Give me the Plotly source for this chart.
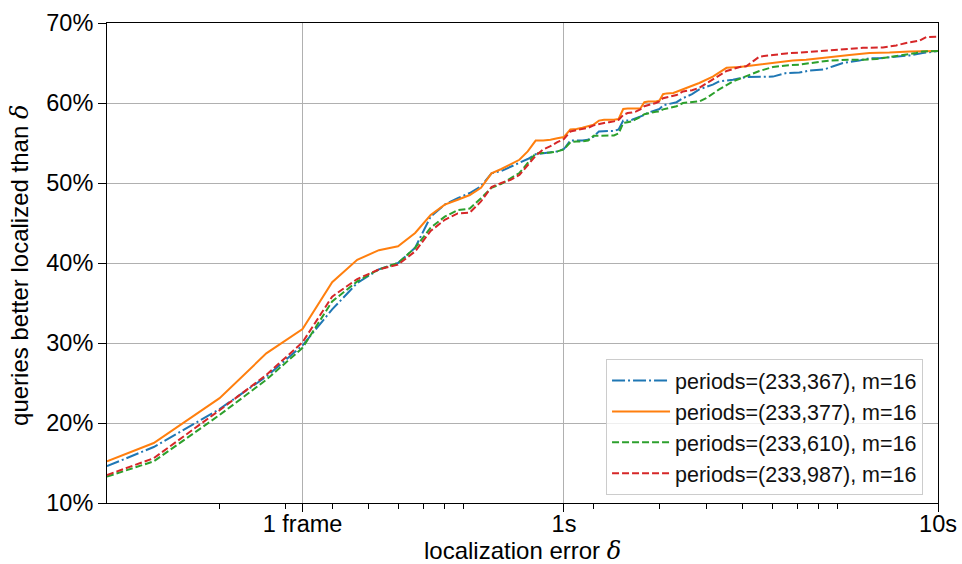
import plotly.graph_objects as go

# ---- data (x in seconds, y in % of queries) ----
x_367 = [0.06, 0.08, 0.12, 0.16, 0.20, 0.24, 0.28, 0.32, 0.36, 0.40, 0.44, 0.48, 0.52, 0.56,
         0.60, 0.64, 0.68, 0.72, 0.76, 0.80, 0.84, 0.88, 0.92, 0.96, 1.00, 1.04, 1.08, 1.12,
         1.16, 1.20, 1.24, 1.28, 1.32, 1.36, 1.40, 1.44, 1.48, 1.52, 1.56, 1.60, 1.64, 1.68,
         1.72, 1.76, 1.80, 1.84, 1.92, 2.00, 2.08, 2.20, 2.30, 2.50, 2.60, 2.83, 3.07, 3.33,
         3.62, 3.93, 4.26, 4.53, 4.97, 5.25, 5.57, 6.16, 6.56, 6.97, 7.60, 8.40, 9.10, 10.0]
y_367 = [14.6, 17.0, 21.75, 25.8, 29.7, 34.2, 37.5, 39.2, 40.0, 41.9, 45.8, 47.3, 48.1, 48.75,
         49.6, 51.2, 51.5, 52.0, 52.5, 53.0, 53.6, 53.75, 53.8, 53.95, 54.25, 55.3, 55.3, 55.3,
         55.4, 55.8, 56.45, 56.5, 56.5, 56.5, 56.7, 57.8, 57.8, 57.9, 58.1, 58.3, 58.5, 58.8,
         58.95, 59.1, 59.25, 59.7, 59.9, 60.1, 60.6, 61.1, 61.7, 62.3, 62.7, 62.9, 63.25, 63.3,
         63.3, 63.75, 63.8, 64.05, 64.2, 64.6, 65.0, 65.3, 65.6, 65.6, 65.75, 65.95, 66.25, 66.5]

x_377 = [0.06, 0.08, 0.12, 0.16, 0.20, 0.24, 0.28, 0.32, 0.36, 0.40, 0.44, 0.48, 0.52, 0.56,
         0.60, 0.64, 0.68, 0.72, 0.76, 0.80, 0.84, 0.88, 0.92, 0.96, 1.00, 1.04, 1.08, 1.12,
         1.16, 1.20, 1.24, 1.28, 1.32, 1.36, 1.40, 1.44, 1.48, 1.52, 1.56, 1.60, 1.64, 1.68,
         1.72, 1.76, 1.80, 1.84, 1.88, 1.92, 1.96, 2.00, 2.08, 2.20, 2.30, 2.50, 2.72, 2.95,
         3.20, 3.47, 3.77, 4.09, 4.44, 4.82, 5.12, 5.80, 6.56, 7.42, 8.40, 9.30, 10.0]
y_377 = [15.2, 17.5, 23.1, 28.7, 31.75, 37.6, 40.4, 41.6, 42.1, 43.75, 46.0, 47.3, 47.9, 48.5,
         49.4, 51.2, 51.75, 52.3, 52.9, 53.95, 55.3, 55.3, 55.4, 55.6, 55.75, 56.7, 56.75, 56.9,
         57.1, 57.3, 57.8, 57.9, 57.9, 57.9, 58.0, 59.25, 59.3, 59.3, 59.3, 59.3, 60.1, 60.2,
         60.2, 60.2, 60.3, 61.1, 61.2, 61.25, 61.25, 61.4, 61.7, 62.1, 62.5, 63.3, 64.4, 64.5,
         64.7, 64.9, 65.1, 65.3, 65.4, 65.6, 65.75, 66.0, 66.25, 66.3, 66.45, 66.45, 66.5]

x_610 = [0.06, 0.08, 0.12, 0.16, 0.20, 0.24, 0.28, 0.32, 0.36, 0.40, 0.44, 0.48, 0.52, 0.56,
         0.60, 0.64, 0.68, 0.72, 0.76, 0.80, 0.84, 0.88, 0.92, 0.96, 1.00, 1.04, 1.08, 1.12,
         1.16, 1.20, 1.24, 1.28, 1.32, 1.36, 1.40, 1.44, 1.48, 1.52, 1.56, 1.60, 1.64, 1.68,
         1.72, 1.76, 1.80, 1.84, 1.92, 2.00, 2.08, 2.20, 2.30, 2.40, 2.60, 2.83, 3.07, 3.33,
         3.62, 3.93, 4.26, 4.82, 5.12, 5.80, 6.30, 6.84, 7.42, 8.04, 8.74, 9.10, 10.0]
y_610 = [13.3, 15.2, 21.0, 25.4, 29.4, 35.2, 37.7, 39.2, 40.0, 41.9, 44.4, 45.8, 46.6, 46.8,
         48.1, 49.4, 49.9, 50.6, 51.25, 52.5, 53.7, 53.75, 53.8, 53.95, 54.2, 55.1, 55.2, 55.2,
         55.3, 55.9, 55.9, 55.9, 55.95, 55.95, 56.2, 57.5, 57.6, 57.7, 58.0, 58.25, 58.6, 58.75,
         58.8, 58.9, 58.95, 59.2, 59.4, 59.6, 60.0, 60.1, 60.2, 60.6, 61.7, 62.7, 63.4, 64.0,
         64.5, 64.7, 64.8, 65.1, 65.3, 65.4, 65.4, 65.5, 65.75, 65.95, 66.25, 66.45, 66.5]

x_987 = [0.06, 0.08, 0.12, 0.16, 0.20, 0.24, 0.28, 0.32, 0.36, 0.40, 0.44, 0.48, 0.52, 0.56,
         0.60, 0.64, 0.68, 0.72, 0.76, 0.80, 0.84, 0.88, 0.92, 0.96, 1.00, 1.04, 1.08, 1.12,
         1.16, 1.20, 1.24, 1.28, 1.32, 1.36, 1.40, 1.44, 1.48, 1.52, 1.56, 1.60, 1.64, 1.68,
         1.72, 1.76, 1.80, 1.84, 1.92, 2.00, 2.08, 2.20, 2.30, 2.50, 2.72, 2.95, 3.07, 3.20,
         3.33, 3.62, 3.93, 4.26, 4.53, 4.92, 5.57, 6.30, 7.12, 7.73, 8.22, 8.93, 9.30, 10.0]
y_987 = [13.5, 15.6, 21.6, 26.0, 30.1, 35.8, 38.0, 39.2, 39.8, 41.45, 44.0, 45.4, 46.2, 46.3,
         47.7, 49.5, 50.0, 50.4, 51.0, 52.2, 53.4, 54.2, 54.6, 55.1, 55.5, 56.45, 56.6, 56.7,
         56.9, 57.2, 57.4, 57.5, 57.6, 57.7, 57.9, 58.5, 58.75, 58.8, 58.95, 59.2, 59.6, 59.75,
         59.8, 60.0, 60.2, 60.6, 60.8, 61.0, 61.45, 61.6, 61.9, 62.9, 64.0, 64.5, 64.6, 65.2,
         65.8, 66.0, 66.2, 66.3, 66.4, 66.55, 66.75, 66.9, 66.95, 67.2, 67.5, 67.8, 68.25, 68.3]

names = ["periods=(233,367), m=16", "periods=(233,377), m=16",
         "periods=(233,610), m=16", "periods=(233,987), m=16"]

x_tickvals = [0.2, 1, 10]
x_ticktext = ["1 frame", "1s", "10s"]
x_minor = [0.12, 0.18, 0.24, 0.30, 0.36, 0.42, 0.48, 0.54,
           1.2, 1.8, 2.4, 3.0, 3.6, 4.2, 4.8, 5.4]
y_tickvals = [10, 20, 30, 40, 50, 60, 70]
y_ticktext = ["10%", "20%", "30%", "40%", "50%", "60%", "70%"]

# ---- figure ----
colors = ["#1f77b4", "#ff7f0e", "#2ca02c", "#d62728"]
dashes = ["13px,3px,2px,3px", "solid", "7px,3px", "7px,3px"]
series = [(x_367, y_367), (x_377, y_377), (x_610, y_610), (x_987, y_987)]

fig = go.Figure()
for (xs, ys), name, c, d in zip(series, names, colors, dashes):
    fig.add_trace(go.Scatter(x=xs, y=ys, mode="lines", name=name,
                             line=dict(color=c, width=2, dash=d)))

font_family = "Liberation Sans, Arial, Helvetica, sans-serif"
delta = '<span style="font-family:DejaVu Serif"><i>δ</i></span>'

fig.update_layout(
    width=962, height=564,
    margin=dict(l=107, r=24, t=23, b=61, autoexpand=False),
    paper_bgcolor="white", plot_bgcolor="white",
    font=dict(family=font_family, size=23.5, color="black"),
    showlegend=True,
    legend=dict(x=0.982, y=0.0167, xanchor="right", yanchor="bottom",
                bgcolor="rgba(255,255,255,0.8)", bordercolor="#cccccc", borderwidth=1,
                font=dict(size=21.5, family=font_family, color="#111111"),
                itemwidth=58),
    annotations=[
        dict(text="localization error " + delta, xref="paper", yref="paper",
             x=0.5, y=-0.1005, xanchor="center", yanchor="middle", showarrow=False,
             font=dict(size=24, family=font_family, color="black")),
        dict(text="queries better localized than " + delta, xref="paper", yref="paper",
             x=-0.105, y=0.4954, xanchor="center", yanchor="middle", showarrow=False,
             textangle=-90, font=dict(size=24, family=font_family, color="black")),
    ],
)
fig.update_xaxes(
    type="log", range=[-1.2218, 1.0], automargin=False,
    tickmode="array", tickvals=x_tickvals, ticktext=x_ticktext,
    ticks="outside", ticklen=8, tickwidth=1, tickcolor="black",
    ticklabelstandoff=-8,
    showgrid=True, gridcolor="#b0b0b0", gridwidth=1,
    showline=True, linecolor="black", linewidth=1, mirror=True,
    minor=dict(tickmode="array", tickvals=x_minor, ticks="outside", ticklen=4.5,
               tickwidth=1, tickcolor="black", showgrid=False),
    zeroline=False,
)
fig.update_yaxes(
    range=[10, 70], automargin=False,
    tickmode="array", tickvals=y_tickvals, ticktext=y_ticktext,
    ticks="outside", ticklen=8, tickwidth=1, tickcolor="black",
    showgrid=True, gridcolor="#b0b0b0", gridwidth=1,
    showline=True, linecolor="black", linewidth=1, mirror=True,
    zeroline=False,
)

fig.write_html(
    "out.html",
    config={"displayModeBar": False},
    post_script="document.body.style.margin='0';document.body.style.overflow='hidden';",
)
